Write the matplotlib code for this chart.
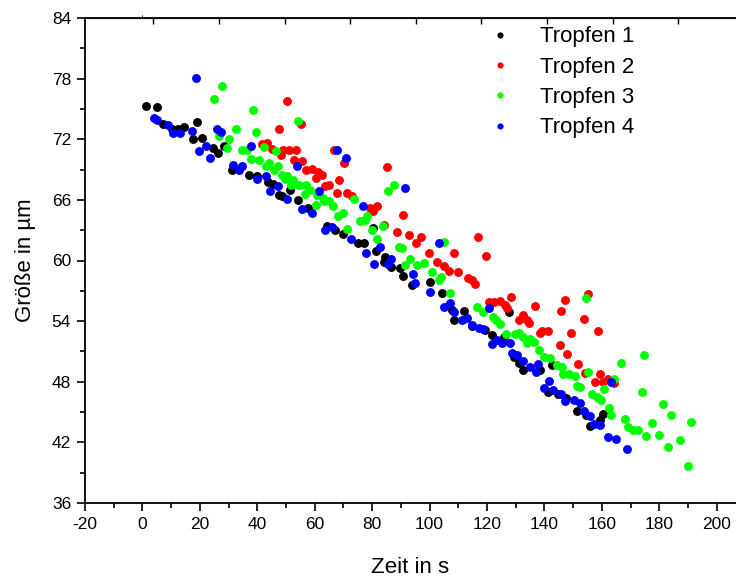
import matplotlib.pyplot as plt
from matplotlib.ticker import MultipleLocator

plt.rcParams['font.family'] = ['Liberation Sans', 'DejaVu Sans']
plt.rcParams['axes.unicode_minus'] = False

# Tropfen 1 (black)
t1_x = [1.15, 5.2, 7.06, 10.2, 12.45, 14.5, 19.1, 17.7, 20.9, 24.6, 26.4, 28.5, 31.1,
        37.1, 40.0, 43.6, 45.5, 47.5, 48.7, 51.3, 54.3, 57.5, 64.3, 67.2, 69.8, 75.1,
        77.1, 80.2, 81.4, 84.3, 84.0, 86.7, 89.8, 90.6, 93.7, 100.3, 104.3, 107.8,
        108.4, 112.1, 114.8, 119.4, 121.7, 125.8, 127.5, 129.3, 131.3, 132.7, 138.3,
        142.6, 141.4, 144.6, 147.6, 151.4, 154.5, 155.7, 159.4, 160.5]
t1_y = [75.28, 75.22, 73.52, 72.97, 73.02, 73.22, 73.69, 72.04, 72.14, 71.1, 70.65,
        71.31, 69.0, 68.5, 68.33, 67.8, 67.55, 66.5, 66.4, 67.0, 66.0, 65.22, 63.43,
        63.03, 62.63, 61.77, 61.77, 63.2, 60.97, 60.35, 59.88, 59.38, 59.22, 58.46,
        57.57, 57.9, 56.74, 55.08, 54.16, 54.98, 53.49, 53.09, 52.6, 52.43, 54.88,
        50.44, 49.86, 49.19, 49.19, 49.66, 46.96, 46.8, 46.37, 45.14, 44.7, 43.6,
        44.2, 44.84]

# Tropfen 2 (red)
t2_x = [41.5, 43.5, 45.2, 47.5, 48.1, 49.0, 50.4, 51.2, 53.6, 52.7, 55.1, 55.7, 56.8,
        59.1, 61.1, 60.3, 62.4, 66.6, 70.1, 68.6, 64.9, 63.5, 67.8, 71.3, 73.0, 85.0,
        79.4, 81.7, 80.2, 90.6, 84.0, 88.7, 92.7, 97.1, 95.1, 99.7, 102.6, 105.0,
        106.6, 108.4, 109.8, 113.3, 114.8, 115.9, 116.7, 119.8, 120.6, 122.3, 124.6,
        126.4, 126.9, 128.3, 131.0, 132.5, 133.9, 134.5, 136.8, 139.1, 141.4, 138.5,
        145.3, 145.8, 147.0, 148.0, 149.2, 151.8, 153.6, 154.2, 155.0, 158.6, 157.7,
        159.2, 160.3, 162.0, 164.1]
t2_y = [71.55, 71.6, 71.05, 73.0, 70.48, 70.93, 75.78, 70.93, 70.98, 69.94, 73.47,
        69.84, 68.92, 69.06, 68.73, 68.17, 68.5, 70.98, 69.66, 68.0, 67.5, 67.33,
        66.68, 66.68, 66.41, 69.22, 65.19, 65.35, 64.85, 64.52, 63.53, 62.86, 62.53,
        62.31, 61.77, 60.78, 59.88, 59.45, 58.99, 60.72, 58.89, 58.23, 58.06, 57.67,
        62.37, 60.45, 55.9, 55.9, 55.97, 55.58, 55.25, 56.42, 54.16, 54.58, 54.09,
        53.82, 55.48, 53.04, 52.99, 52.82, 51.65, 54.98, 56.14, 50.71, 52.86, 49.71,
        54.19, 48.85, 56.67, 52.99, 47.95, 48.72, 47.95, 48.29, 47.83]

# Tropfen 3 (green)
t3_x = [24.9, 27.6, 26.6, 30.1, 29.3, 32.6, 34.5, 36.5, 37.7, 38.5, 39.6, 40.6, 42.3,
        44.0, 43.2, 46.4, 47.3, 45.8, 48.7, 50.4, 49.5, 51.6, 52.4, 54.0, 54.5, 57.0,
        58.2, 56.5, 60.9, 60.3, 62.8, 63.2, 65.1, 66.3, 68.2, 69.8, 71.3, 73.6, 75.6,
        77.4, 78.3, 79.8, 81.7, 83.8, 85.6, 87.5, 89.3, 90.4, 91.3, 93.3, 95.7, 97.9,
        100.9, 103.2, 103.8, 105.1, 107.0, 116.5, 118.6, 122.0, 123.2, 124.6, 126.5,
        129.8, 131.3, 132.7, 134.8, 133.9, 136.2, 138.1, 139.7, 142.0, 144.3, 146.1,
        146.4, 148.7, 150.7, 155.0, 151.4, 152.5, 154.5, 156.5, 158.2, 159.7, 160.7,
        162.5, 163.1, 164.1, 166.6, 168.1, 169.1, 170.7, 172.7, 174.0, 174.6, 175.4,
        177.3, 179.8, 181.4, 183.1, 184.2, 187.2, 190.1, 190.9]
t3_y = [76.02, 77.27, 72.32, 72.04, 71.11, 72.97, 70.98, 70.91, 70.09, 74.86, 72.7,
        69.99, 71.25, 69.66, 69.39, 70.81, 69.32, 68.92, 68.5, 68.4, 68.07, 67.5,
        67.93, 73.81, 67.45, 67.5, 67.0, 66.61, 66.51, 65.52, 66.18, 65.84, 65.84,
        65.42, 64.42, 64.75, 63.1, 66.08, 63.86, 63.96, 64.42, 63.03, 62.11, 63.43,
        66.84, 67.5, 61.31, 61.21, 59.55, 60.12, 59.55, 59.78, 58.89, 58.06, 58.33,
        61.87, 56.74, 55.41, 54.91, 54.38, 54.09, 53.74, 52.7, 52.68, 52.82, 52.45,
        52.27, 51.88, 51.98, 51.16, 50.48, 50.38, 49.61, 49.45, 48.72, 48.79, 48.52,
        48.95, 47.53, 47.46, 56.24, 46.8, 46.46, 46.21, 47.25, 45.41, 44.75, 48.29,
        49.84, 44.32, 43.52, 43.23, 43.18, 47.01, 50.61, 42.66, 43.88, 42.76, 45.77,
        41.5, 44.75, 42.24, 39.65, 44.02]

# Tropfen 4 (blue)
t4_x = [4.03, 5.15, 8.9, 10.7, 13.1, 17.1, 18.5, 19.7, 22.0, 23.5, 25.8, 27.5, 31.6,
        34.5, 33.8, 37.7, 39.9, 42.9, 44.5, 47.2, 50.4, 53.8, 55.7, 58.9, 61.4, 63.5,
        66.1, 67.8, 71.0, 72.5, 76.7, 77.7, 80.6, 82.9, 85.6, 86.7, 91.6, 94.1, 94.8,
        100.1, 103.2, 105.1, 107.2, 108.4, 111.3, 113.0, 114.8, 117.1, 118.6, 120.7,
        121.7, 123.4, 125.2, 128.1, 128.6, 130.6, 132.7, 135.0, 137.1, 137.9, 139.7,
        141.7, 143.0, 145.7, 147.2, 150.4, 152.5, 153.6, 155.7, 157.3, 159.5, 163.0,
        162.3, 165.0, 168.6]
t4_y = [74.13, 73.86, 73.44, 72.57, 72.57, 72.8, 78.11, 70.81, 71.31, 70.16, 72.97,
        72.7, 69.44, 69.39, 68.94, 71.31, 68.1, 68.33, 66.84, 67.4, 66.08, 69.36,
        65.09, 64.69, 66.91, 63.03, 63.36, 70.91, 70.16, 62.14, 65.42, 60.72, 59.65,
        61.31, 59.65, 60.12, 67.18, 58.66, 57.73, 56.87, 61.77, 55.38, 55.75, 54.93,
        54.16, 54.26, 53.59, 53.36, 53.26, 55.28, 51.75, 52.1, 51.83, 51.83, 50.81,
        50.61, 50.08, 49.45, 48.95, 49.74, 47.4, 48.12, 47.2, 46.8, 46.14, 46.21,
        45.87, 45.11, 44.65, 43.85, 43.73, 47.96, 42.56, 42.33, 41.34]

labels = ['Tropfen 1', 'Tropfen 2', 'Tropfen 3', 'Tropfen 4']
colors = ['#000000', '#ff0000', '#00ff00', '#0000ff']

fig = plt.figure(figsize=(7.36, 5.78), dpi=100)
ax = fig.add_axes([85 / 736, 75 / 578, 651 / 736, 485 / 578])

series = [(t1_x, t1_y), (t2_x, t2_y), (t3_x, t3_y), (t4_x, t4_y)]
for (xs, ys), lab, col in zip(series, labels, colors):
    ax.plot(xs, ys, 'o', color=col, markersize=6.4, markeredgewidth=0, label=lab)

ax.set_xlim(-20, 206.7)
ax.set_ylim(36, 84)
ax.xaxis.set_major_locator(MultipleLocator(20))
ax.xaxis.set_minor_locator(MultipleLocator(10))
ax.yaxis.set_major_locator(MultipleLocator(6))
ax.yaxis.set_minor_locator(MultipleLocator(3))

for s in ['left', 'bottom', 'top']:
    ax.spines[s].set_linewidth(1.3)
ax.spines['right'].set_visible(False)

ax.tick_params(which='major', direction='out', length=6, width=1.2,
               labelsize=12.5, pad=4)
ax.tick_params(which='minor', direction='out', length=3.5, width=1.2)

# unlabelled inward ticks on the top edge
top = ax.secondary_xaxis('top')
top.set_xticks([3.8 + 22.85 * k for k in range(9)])
top.tick_params(direction='in', length=4, width=1.0, labeltop=False)
top.xaxis.set_minor_locator(MultipleLocator(1000))

ax.set_xlabel('Zeit in s', fontsize=16, labelpad=18)
ax.set_ylabel('Größe in µm', fontsize=16, labelpad=11)

leg = ax.legend(loc='upper left', bbox_to_anchor=(0.6, 1.01), frameon=False,
                fontsize=16, markerscale=0.7, handlelength=1.0,
                handletextpad=1.3, labelspacing=0.42, borderaxespad=0.2)

fig.savefig('out.png', dpi=100)
